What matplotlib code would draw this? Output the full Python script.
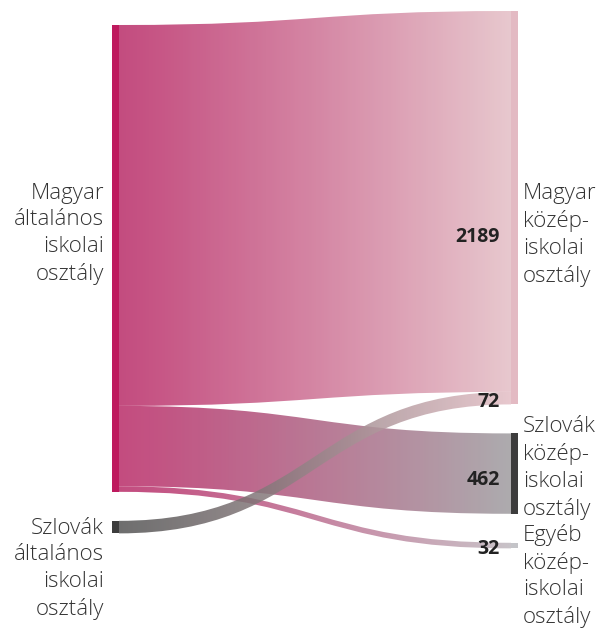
import numpy as np
import matplotlib.pyplot as plt
from matplotlib.path import Path
from matplotlib.patches import PathPatch
from matplotlib.colors import to_rgb

# nodes (left = általános iskola, right = középiskola)
left_nodes = ["Magyar\náltalános\niskolai\nosztály", "Szlovák\náltalános\niskolai\nosztály"]
right_nodes = ["Magyar\nközép-\niskolai\nosztály", "Szlovák\nközép-\niskolai\nosztály",
               "Egyéb\nközép-\niskolai\nosztály"]

# flows: (source, target, value)
flow_src = [0, 0, 0, 1]
flow_dst = [0, 1, 2, 0]
flow_val = [2189, 462, 32, 72]

left_colors = ["#BE1A5E", "#3D3D3D"]
right_colors = ["#E3BAC3", "#3D3D3D", "#C4C4C8"]
# colours of the ribbons as they appear on white
flow_start = {0: "#C44C7F", 1: "#6E6E6E"}
flow_end = {0: "#E8C8CE", 1: "#ADABAE", 2: "#C9C3C8"}
alpha = 0.85

plt.rcParams['font.family'] = ['Open Sans', 'DejaVu Sans']

fig = plt.figure(figsize=(6.05, 6.3), dpi=100)
ax = fig.add_axes([0, 0, 1, 1])
ax.set_xlim(0, 605)
ax.set_ylim(630, 0)
ax.axis('off')

scale = 0.174   # px per student
gap = 29
xl, xr, nw = 112, 511, 7
top_left, top_right = 25, 11


def node_sizes(side, n):
    tot = [0] * n
    for s, d, v in zip(flow_src, flow_dst, flow_val):
        tot[s if side == 0 else d] += v
    return tot


def stack(tot, y0):
    pos, y = [], y0
    for t in tot:
        pos.append(y)
        y += t * scale + gap
    return pos


def on_white(hexcol):
    # colour that gives hexcol once blended with white at the ribbon alpha
    c = np.array(to_rgb(hexcol))
    return np.clip((c - (1 - alpha)) / alpha, 0, 1)


lt = node_sizes(0, len(left_nodes))
rt = node_sizes(1, len(right_nodes))
lpos = stack(lt, top_left)
rpos = stack(rt, top_right)

# ribbon positions at both ends
lcur = list(lpos)
y_left = {}
for i, (s, v) in enumerate(zip(flow_src, flow_val)):
    y_left[i] = lcur[s]
    lcur[s] += v * scale
rcur = list(rpos)
y_right = {}
for i in sorted(range(len(flow_val)), key=lambda k: (flow_dst[k], flow_src[k])):
    y_right[i] = rcur[flow_dst[i]]
    rcur[flow_dst[i]] += flow_val[i] * scale

x0, x1 = xl + nw, xr
xm = (x0 + x1) / 2
t = np.linspace(0, 1, 256)[:, None] ** 1.1
for i in range(len(flow_val)):
    h = flow_val[i] * scale
    a, b = y_left[i], y_right[i]
    verts = [(x0, a), (xm, a), (xm, b), (x1, b),
             (x1, b + h), (xm, b + h), (xm, a + h), (x0, a + h), (x0, a)]
    codes = [Path.MOVETO, Path.CURVE4, Path.CURVE4, Path.CURVE4,
             Path.LINETO, Path.CURVE4, Path.CURVE4, Path.CURVE4, Path.CLOSEPOLY]
    patch = PathPatch(Path(verts, codes), facecolor='none', edgecolor='none')
    ax.add_patch(patch)
    c0 = on_white(flow_start[flow_src[i]])
    c1 = on_white(flow_end[flow_dst[i]])
    grad = np.ones((1, 256, 4))
    grad[0, :, :3] = c0 * (1 - t) + c1 * t
    grad[0, :, 3] = alpha
    im = ax.imshow(grad, extent=[x0, x1, 630, 0], aspect='auto',
                   interpolation='bilinear', zorder=1)
    im.set_clip_path(patch)

# nodes
for k, tot in enumerate(lt):
    ax.add_patch(plt.Rectangle((xl, lpos[k]), nw, tot * scale, color=left_colors[k], zorder=3, lw=0))
for k, tot in enumerate(rt):
    ax.add_patch(plt.Rectangle((xr, rpos[k]), nw, tot * scale, color=right_colors[k], zorder=3, lw=0))

# node labels
txt = dict(fontsize=16, color='#333333', linespacing=1.36, fontweight='light')
left_label_y = [234, 569]
right_label_y = [235, 468, 576]
for k, name in enumerate(left_nodes):
    ax.text(104, left_label_y[k], name, ha='right', va='center', **txt)
for k, name in enumerate(right_nodes):
    ax.text(523, right_label_y[k], name, ha='left', va='center', **txt)

# value labels at the right end of each ribbon
label_shift = {0: 36, 1: 6, 2: 3, 3: 4}
for i, v in enumerate(flow_val):
    y = y_right[i] + v * scale / 2 + label_shift[i]
    ax.text(500, y, str(v), ha='right', va='center', fontsize=14,
            fontweight='bold', color='#222222')

fig.savefig("out.png", dpi=100)
